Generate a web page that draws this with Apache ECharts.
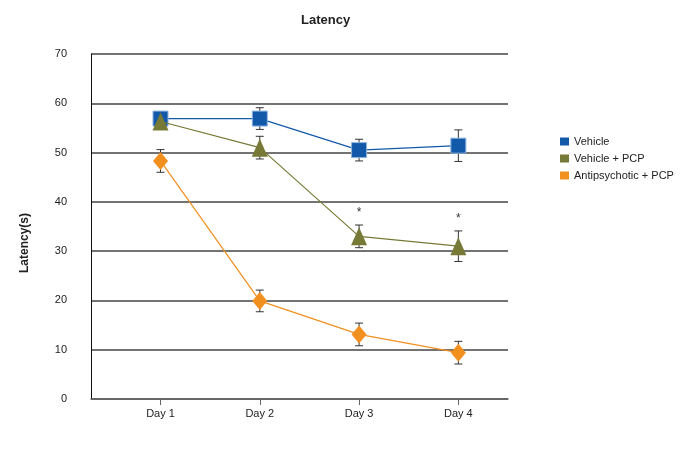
<!DOCTYPE html>
<html>
<head>
<meta charset="utf-8">
<script src="https://cdn.jsdelivr.net/npm/echarts@6/dist/echarts.min.js"></script>
<style>html,body{margin:0;padding:0;background:#fff}#c{width:698px;height:458px}</style>
</head>
<body>
<div id="c"></div>
<script>
var days = [1, 2, 3, 4];
var dayLabels = ['Day 1', 'Day 2', 'Day 3', 'Day 4'];
var yTicks = [0, 10, 20, 30, 40, 50, 60, 70];

var vehicleMean = [56.9, 56.9, 50.5, 51.4];
var vehicleErr  = [0.5, 2.2, 2.2, 3.2];
var vehicleSig  = [0, 0, 0, 0];

var pcpMean = [56.3, 51.0, 33.0, 31.0];
var pcpErr  = [0.5, 2.3, 2.3, 3.1];
var pcpSig  = [0, 0, 1, 1];

var antiMean = [48.3, 19.9, 13.1, 9.4];
var antiErr  = [2.3, 2.2, 2.3, 2.3];
var antiSig  = [0, 0, 0, 0];

var seriesNames = ['Vehicle', 'Vehicle + PCP', 'Antipsychotic + PCP'];
var colors = ['#1259aa', '#777a36', '#f18f1f'];

function pts(mean) { return days.map(function (d, i) { return [d, mean[i]]; }); }
function errData(mean, err, sig) { return days.map(function (d, i) { return [d, mean[i] - err[i], mean[i] + err[i], sig[i]]; }); }

function errSeries(name, mean, err, sig) {
  return {
    type: 'custom', name: name + ' err', silent: true, z: 1,
    data: errData(mean, err, sig),
    renderItem: function (params, api) {
      var x = api.value(0);
      var lo = api.coord([x, api.value(1)]);
      var hi = api.coord([x, api.value(2)]);
      var w = 4;
      var st = { stroke: '#333', lineWidth: 1 };
      var children = [
        { type: 'line', shape: { x1: hi[0], y1: hi[1], x2: lo[0], y2: lo[1] }, style: st },
        { type: 'line', shape: { x1: hi[0] - w, y1: hi[1], x2: hi[0] + w, y2: hi[1] }, style: st },
        { type: 'line', shape: { x1: lo[0] - w, y1: lo[1], x2: lo[0] + w, y2: lo[1] }, style: st }
      ];
      if (api.value(3)) {
        children.push({ type: 'text', style: { text: '*', x: hi[0], y: hi[1] - 6, fill: '#333', font: '12px Liberation Sans, Arial', align: 'center', verticalAlign: 'bottom' } });
      }
      return { type: 'group', children: children };
    }
  };
}

var chart = echarts.init(document.getElementById('c'), null, { renderer: 'canvas' });
chart.setOption({
  animation: false,
  backgroundColor: '#fff',
  textStyle: { fontFamily: 'Liberation Sans, Arial, sans-serif' },
  title: {
    text: 'Latency', left: 296, top: 9,
    textStyle: { fontSize: 13, fontWeight: 'bold', color: '#222', fontFamily: 'Liberation Sans, Arial, sans-serif' }
  },
  graphic: [{
    type: 'text', x: 25, y: 243, rotation: Math.PI / 2,
    style: { text: 'Latency(s)', font: 'bold 12px Liberation Sans, Arial', fill: '#222', align: 'center', verticalAlign: 'middle' }
  }],
  legend: {
    orient: 'vertical', left: 555, top: 131, itemGap: 6,
    itemWidth: 9, itemHeight: 8, icon: 'rect',
    data: seriesNames,
    itemStyle: { borderWidth: 0 },
    textStyle: { fontSize: 11, color: '#222' }
  },
  grid: { left: 91, right: 190, top: 54, bottom: 59 },
  xAxis: {
    type: 'value', min: 0.3, max: 4.5,
    splitLine: { show: false },
    axisLine: { show: true, lineStyle: { color: '#666', width: 1.5 } },
    axisTick: { show: true, length: 6, lineStyle: { color: '#666' } },
    axisLabel: {
      fontSize: 11, color: '#222', margin: 9,
      showMinLabel: false, showMaxLabel: false,
      formatter: function (v) { var i = days.indexOf(v); return i >= 0 ? dayLabels[i] : ''; }
    }
  },
  yAxis: {
    type: 'value', min: yTicks[0], max: yTicks[yTicks.length - 1], interval: 10,
    axisLine: { show: true, lineStyle: { color: '#111', width: 1 } },
    axisTick: { show: false },
    splitLine: { show: true, lineStyle: { color: '#444', width: 1.5 } },
    axisLabel: { fontSize: 11, color: '#222', margin: 24 }
  },
  series: [
    errSeries(seriesNames[0], vehicleMean, vehicleErr, vehicleSig),
    errSeries(seriesNames[1], pcpMean, pcpErr, pcpSig),
    errSeries(seriesNames[2], antiMean, antiErr, antiSig),
    {
      type: 'line', name: seriesNames[0], data: pts(vehicleMean), z: 3,
      symbol: 'rect', symbolSize: 15, color: colors[0],
      lineStyle: { color: colors[0], width: 1.2 },
      itemStyle: { color: colors[0], borderColor: '#8fb3de', borderWidth: 1 }
    },
    {
      type: 'line', name: seriesNames[1], data: pts(pcpMean), z: 4,
      symbol: 'triangle', symbolSize: [16, 18], color: colors[1],
      lineStyle: { color: colors[1], width: 1.2 },
      itemStyle: { color: colors[1] }
    },
    {
      type: 'line', name: seriesNames[2], data: pts(antiMean), z: 5,
      symbol: 'diamond', symbolSize: [15, 18], color: colors[2],
      lineStyle: { color: colors[2], width: 1.2 },
      itemStyle: { color: colors[2] }
    }
  ]
});
</script>
</body>
</html>
